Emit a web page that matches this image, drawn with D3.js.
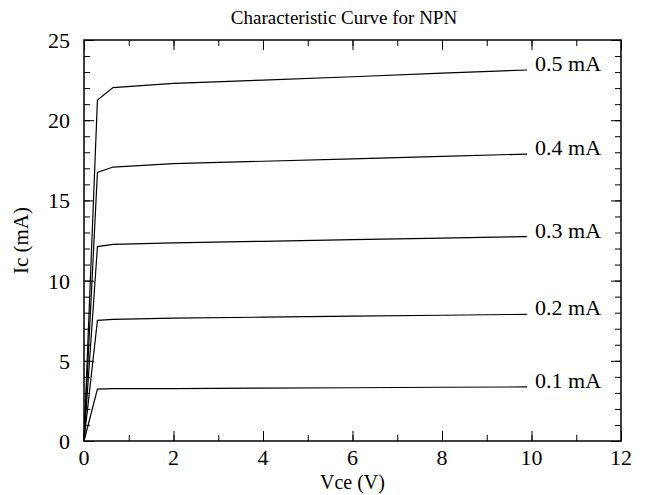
<!DOCTYPE html>
<html>
<head>
<meta charset="utf-8">
<script src="https://d3js.org/d3.v7.min.js"></script>
<style>
  body { margin: 0; background: #fff; }
  text { font-family: 'Liberation Serif', 'Times New Roman', serif; fill: #000; }
</style>
</head>
<body>
<script>
// Data
var vce = [0, 0.3, 0.65, 2, 4, 6, 8, 9.9];
var ic01 = [0, 3.24, 3.26, 3.27, 3.30, 3.32, 3.35, 3.37];
var ic02 = [0, 7.52, 7.58, 7.66, 7.72, 7.78, 7.84, 7.90];
var ic03 = [0, 12.12, 12.26, 12.35, 12.45, 12.55, 12.65, 12.74];
var ic04 = [0, 16.75, 17.08, 17.29, 17.44, 17.59, 17.75, 17.89];
var ic05 = [0, 21.26, 22.03, 22.29, 22.50, 22.71, 22.93, 23.13];
var seriesLabels = ['0.1 mA', '0.2 mA', '0.3 mA', '0.4 mA', '0.5 mA'];
var xTicks = [0, 2, 4, 6, 8, 10, 12];
var yTicks = [0, 5, 10, 15, 20, 25];

var series = [ic01, ic02, ic03, ic04, ic05];

var W = 647, H = 495;
var m = {top: 40, right: 26, bottom: 54, left: 84};
var w = W - m.left - m.right,
    h = H - m.top - m.bottom;

var svg = d3.select('body').append('svg')
  .attr('width', W).attr('height', H);

var g = svg.append('g')
  .attr('transform', `translate(${m.left},${m.top})`);

var x = d3.scaleLinear().domain([0, 12]).range([0, w]);
var y = d3.scaleLinear().domain([0, 25]).range([h, 0]);

// ticks: major inward on all sides, minor between
function tickSet(axisFn, scale, vals, len) {
  return axisFn(scale).tickValues(vals).tickSize(len).tickFormat('');
}
var xMinor = d3.range(0, 13, 1);
var yMinor = d3.range(0, 26, 1);

var axes = [
  [d3.axisBottom, x, `translate(0,${h})`],
  [d3.axisTop, x, 'translate(0,0)'],
  [d3.axisLeft, y, 'translate(0,0)'],
  [d3.axisRight, y, `translate(${w},0)`]
];
axes.forEach(function(a) {
  var isX = a[1] === x;
  g.append('g').attr('class', 'minor').attr('transform', a[2])
    .call(tickSet(a[0], a[1], isX ? xMinor : yMinor, -6));
  g.append('g').attr('class', 'major').attr('transform', a[2])
    .call(tickSet(a[0], a[1], isX ? xTicks : yTicks, -10));
});
g.selectAll('.domain').remove();
g.selectAll('.tick line').attr('stroke', '#000').attr('stroke-width', 1);

// tick labels
g.selectAll('.xlab').data(xTicks).enter().append('text')
  .attr('x', d => x(d)).attr('y', h + 24)
  .attr('text-anchor', 'middle').attr('font-size', 22)
  .text(d => d);
g.selectAll('.ylab').data(yTicks).enter().append('text')
  .attr('x', -14).attr('y', d => y(d) + 8)
  .attr('text-anchor', 'end').attr('font-size', 22)
  .text(d => d);

// frame
g.append('rect').attr('width', w).attr('height', h)
  .attr('fill', 'none').attr('stroke', '#000').attr('stroke-width', 1.5);

// curves
var line = d3.line().x((d, i) => x(vce[i])).y(d => y(d));
g.selectAll('.curve').data(series).enter().append('path')
  .attr('d', line)
  .attr('fill', 'none').attr('stroke', '#000').attr('stroke-width', 1.2);

g.selectAll('.slab').data(series).enter().append('text')
  .attr('x', d => x(vce[vce.length - 1]) + 8)
  .attr('y', d => y(d[d.length - 1]) + 1)
  .attr('font-size', 22)
  .text((d, i) => seriesLabels[i]);

// titles
svg.append('text').attr('x', 344).attr('y', 24)
  .attr('text-anchor', 'middle').attr('font-size', 19)
  .text('Characteristic Curve for NPN');
svg.append('text').attr('x', m.left + w / 2).attr('y', H - 6)
  .attr('text-anchor', 'middle').attr('font-size', 20)
  .text('Vce (V)');
svg.append('text')
  .attr('transform', `translate(28,${m.top + h / 2}) rotate(-90)`)
  .attr('text-anchor', 'middle').attr('font-size', 21)
  .text('Ic (mA)');
</script>
</body>
</html>
